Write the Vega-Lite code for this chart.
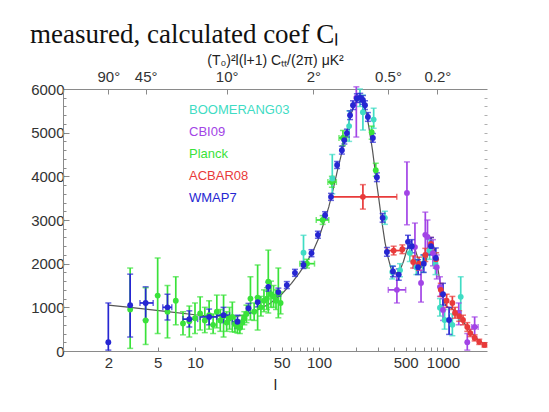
{
  "$schema": "https://vega.github.io/schema/vega-lite/v6.json",
  "autosize": "none",
  "width": 424,
  "height": 262,
  "padding": {"left": 63, "top": 89, "right": 62, "bottom": 61},
  "background": "white",
  "title": {"text": "measured, calculated coef Cₗ", "font": "Liberation Serif", "fontSize": 27, "fontWeight": "normal", "color": "#111111", "anchor": "start", "frame": "group", "dx": -33, "offset": 4},
  "config": {
    "view": {"stroke": null},
    "axis": {"labelFont": "Liberation Sans", "titleFont": "Liberation Sans", "labelColor": "#333333", "titleColor": "#222222", "domainColor": "#8a8a8a", "tickColor": "#8a8a8a", "grid": false, "titleFontWeight": "normal", "labelFontSize": 15}
  },
  "datasets": {
    "th": [
      {"l": 2, "v": 1050}, {"l": 3, "v": 1000}, {"l": 4, "v": 960}, {"l": 6, "v": 900}, {"l": 10, "v": 830}, {"l": 15, "v": 790}, {"l": 20, "v": 780}, {"l": 25, "v": 820}, {"l": 30, "v": 900}, {"l": 40, "v": 1080}, {"l": 50, "v": 1300}, {"l": 60, "v": 1550}, {"l": 70, "v": 1800}, {"l": 80, "v": 2050}, {"l": 90, "v": 2300}, {"l": 100, "v": 2600}, {"l": 110, "v": 2950}, {"l": 120, "v": 3300}, {"l": 130, "v": 3700}, {"l": 140, "v": 4100}, {"l": 150, "v": 4450}, {"l": 160, "v": 4800}, {"l": 170, "v": 5100}, {"l": 180, "v": 5400}, {"l": 190, "v": 5600}, {"l": 200, "v": 5720}, {"l": 210, "v": 5780}, {"l": 220, "v": 5760}, {"l": 230, "v": 5650}, {"l": 240, "v": 5450}, {"l": 250, "v": 5200}, {"l": 260, "v": 4900}, {"l": 270, "v": 4600}, {"l": 280, "v": 4250}, {"l": 290, "v": 3900}, {"l": 300, "v": 3600}, {"l": 320, "v": 3000}, {"l": 340, "v": 2500}, {"l": 360, "v": 2150}, {"l": 380, "v": 1900}, {"l": 400, "v": 1800}, {"l": 420, "v": 1780}, {"l": 450, "v": 1850}, {"l": 480, "v": 2050}, {"l": 510, "v": 2300}, {"l": 540, "v": 2450}, {"l": 570, "v": 2450}, {"l": 600, "v": 2300}, {"l": 640, "v": 2050}, {"l": 680, "v": 1900}, {"l": 720, "v": 2000}, {"l": 760, "v": 2250}, {"l": 800, "v": 2450}, {"l": 840, "v": 2400}, {"l": 880, "v": 2150}, {"l": 920, "v": 1800}, {"l": 960, "v": 1450}, {"l": 1000, "v": 1200}, {"l": 1050, "v": 1050}, {"l": 1100, "v": 1000}, {"l": 1150, "v": 990}, {"l": 1200, "v": 950}, {"l": 1300, "v": 850}, {"l": 1400, "v": 750}, {"l": 1500, "v": 620}, {"l": 1600, "v": 500}, {"l": 1700, "v": 420}, {"l": 1800, "v": 340}, {"l": 1900, "v": 270}, {"l": 2000, "v": 220}, {"l": 2100, "v": 180}, {"l": 2200, "v": 140}
    ],
    "pts": [
      {"s": "Planck", "l": 3, "v": 950, "lo": 60, "hi": 1900},
      {"s": "Planck", "l": 4, "v": 700, "lo": 150, "hi": 1450},
      {"s": "Planck", "l": 5, "v": 1270, "lo": 400, "hi": 2130},
      {"s": "Planck", "l": 6, "v": 900, "lo": 300, "hi": 1500},
      {"s": "Planck", "l": 7, "v": 1150, "lo": 600, "hi": 1700},
      {"s": "Planck", "l": 8, "v": 630, "lo": 370, "hi": 900},
      {"s": "Planck", "l": 9, "v": 680, "lo": 320, "hi": 1030},
      {"s": "Planck", "l": 10, "v": 750, "lo": 400, "hi": 1100},
      {"s": "Planck", "l": 11, "v": 860, "lo": 480, "hi": 1240},
      {"s": "Planck", "l": 12, "v": 700, "lo": 420, "hi": 1000},
      {"s": "Planck", "l": 13, "v": 820, "lo": 500, "hi": 1150},
      {"s": "Planck", "l": 14, "v": 600, "lo": 400, "hi": 850},
      {"s": "Planck", "l": 15, "v": 900, "lo": 530, "hi": 1280},
      {"s": "Planck", "l": 16, "v": 700, "lo": 450, "hi": 950},
      {"s": "Planck", "l": 17, "v": 800, "lo": 320, "hi": 1280},
      {"s": "Planck", "l": 18, "v": 650, "lo": 450, "hi": 900},
      {"s": "Planck", "l": 19, "v": 750, "lo": 500, "hi": 1000},
      {"s": "Planck", "l": 20, "v": 780, "lo": 440, "hi": 1120},
      {"s": "Planck", "l": 21, "v": 620, "lo": 430, "hi": 800},
      {"s": "Planck", "l": 22, "v": 560, "lo": 410, "hi": 710},
      {"s": "Planck", "l": 23, "v": 530, "lo": 400, "hi": 700},
      {"s": "Planck", "l": 24, "v": 650, "lo": 500, "hi": 820},
      {"s": "Planck", "l": 25, "v": 750, "lo": 600, "hi": 900},
      {"s": "Planck", "l": 26, "v": 850, "lo": 650, "hi": 1050},
      {"s": "Planck", "l": 28, "v": 1200, "lo": 710, "hi": 1700},
      {"s": "Planck", "l": 30, "v": 900, "lo": 700, "hi": 1100},
      {"s": "Planck", "l": 32, "v": 1220, "lo": 480, "hi": 1970},
      {"s": "Planck", "l": 34, "v": 1000, "lo": 800, "hi": 1250},
      {"s": "Planck", "l": 36, "v": 1150, "lo": 900, "hi": 1400},
      {"s": "Planck", "l": 38, "v": 1200, "lo": 950, "hi": 1450},
      {"s": "Planck", "l": 39, "v": 1590, "lo": 870, "hi": 2310},
      {"s": "Planck", "l": 41, "v": 1300, "lo": 1000, "hi": 1600},
      {"s": "Planck", "l": 43, "v": 1250, "lo": 1000, "hi": 1500},
      {"s": "Planck", "l": 45, "v": 1150, "lo": 950, "hi": 1400},
      {"s": "Planck", "l": 47, "v": 1330, "lo": 760, "hi": 1900},
      {"s": "Planck", "l": 49, "v": 1100, "lo": 850, "hi": 1350},
      {"s": "Planck", "l": 80, "v": 2000, "lo": 1900, "hi": 2100, "l1": 70, "l2": 92},
      {"s": "Planck", "l": 107, "v": 3000, "lo": 2900, "hi": 3100, "l1": 95, "l2": 120},
      {"s": "Planck", "l": 127, "v": 3870, "lo": 3750, "hi": 4000, "l1": 118, "l2": 138},
      {"s": "Planck", "l": 156, "v": 4880, "lo": 4700, "hi": 5050, "l1": 145, "l2": 168},
      {"s": "Planck", "l": 266, "v": 5010, "lo": 4850, "hi": 5150},
      {"s": "Planck", "l": 287, "v": 4140, "lo": 4000, "hi": 4300},
      {"s": "BOOMERANG03", "l": 75, "v": 2250, "lo": 1950, "hi": 2650},
      {"s": "BOOMERANG03", "l": 128, "v": 3950, "lo": 3600, "hi": 4500},
      {"s": "BOOMERANG03", "l": 175, "v": 5150, "lo": 4800, "hi": 5500},
      {"s": "BOOMERANG03", "l": 214, "v": 5790, "lo": 5600, "hi": 6000},
      {"s": "BOOMERANG03", "l": 226, "v": 5470, "lo": 5060, "hi": 5860},
      {"s": "BOOMERANG03", "l": 276, "v": 5300, "lo": 5100, "hi": 5560},
      {"s": "BOOMERANG03", "l": 340, "v": 3050, "lo": 2900, "hi": 3200},
      {"s": "BOOMERANG03", "l": 390, "v": 1810, "lo": 1650, "hi": 1950},
      {"s": "BOOMERANG03", "l": 450, "v": 1850, "lo": 1700, "hi": 2000},
      {"s": "BOOMERANG03", "l": 540, "v": 2240, "lo": 2050, "hi": 2450},
      {"s": "BOOMERANG03", "l": 610, "v": 1920, "lo": 1750, "hi": 2100},
      {"s": "BOOMERANG03", "l": 690, "v": 2000, "lo": 1800, "hi": 2200},
      {"s": "BOOMERANG03", "l": 780, "v": 2300, "lo": 2100, "hi": 2550},
      {"s": "BOOMERANG03", "l": 870, "v": 2000, "lo": 1750, "hi": 2250},
      {"s": "BOOMERANG03", "l": 945, "v": 990, "lo": 800, "hi": 1200},
      {"s": "BOOMERANG03", "l": 1030, "v": 710, "lo": 500, "hi": 950},
      {"s": "BOOMERANG03", "l": 1190, "v": 600, "lo": 350, "hi": 850},
      {"s": "BOOMERANG03", "l": 1390, "v": 1240, "lo": 710, "hi": 1700},
      {"s": "CBI09", "l": 200, "v": 5800, "lo": 4900, "hi": 6050},
      {"s": "CBI09", "l": 425, "v": 1400, "lo": 1100, "hi": 1750, "l1": 362, "l2": 500},
      {"s": "CBI09", "l": 512, "v": 3620, "lo": 2890, "hi": 4330},
      {"s": "CBI09", "l": 594, "v": 2380, "lo": 1900, "hi": 2930},
      {"s": "CBI09", "l": 665, "v": 1560, "lo": 1120, "hi": 1850},
      {"s": "CBI09", "l": 720, "v": 2660, "lo": 2200, "hi": 3180},
      {"s": "CBI09", "l": 750, "v": 2610, "lo": 2240, "hi": 3000},
      {"s": "CBI09", "l": 830, "v": 2240, "lo": 1950, "hi": 2550},
      {"s": "CBI09", "l": 890, "v": 1920, "lo": 1650, "hi": 2200},
      {"s": "CBI09", "l": 945, "v": 1470, "lo": 1250, "hi": 1700},
      {"s": "CBI09", "l": 1000, "v": 940, "lo": 700, "hi": 1200},
      {"s": "CBI09", "l": 1340, "v": 870, "lo": 600, "hi": 1100},
      {"s": "CBI09", "l": 1570, "v": 200, "lo": 20, "hi": 400},
      {"s": "CBI09", "l": 1800, "v": 550, "lo": 320, "hi": 780, "l1": 1700, "l2": 1920},
      {"s": "ACBAR08", "l": 226, "v": 3530, "lo": 3250, "hi": 3810, "l1": 123, "l2": 424},
      {"s": "ACBAR08", "l": 400, "v": 2300, "lo": 2200, "hi": 2400, "l1": 350, "l2": 460},
      {"s": "ACBAR08", "l": 470, "v": 2330, "lo": 2230, "hi": 2430},
      {"s": "ACBAR08", "l": 575, "v": 2040, "lo": 1900, "hi": 2180},
      {"s": "ACBAR08", "l": 640, "v": 2000, "lo": 1850, "hi": 2150},
      {"s": "ACBAR08", "l": 720, "v": 2200, "lo": 2050, "hi": 2350},
      {"s": "ACBAR08", "l": 800, "v": 2450, "lo": 2300, "hi": 2600},
      {"s": "ACBAR08", "l": 880, "v": 2100, "lo": 1950, "hi": 2250},
      {"s": "ACBAR08", "l": 960, "v": 1400, "lo": 1250, "hi": 1550},
      {"s": "ACBAR08", "l": 1070, "v": 1150, "lo": 1000, "hi": 1300},
      {"s": "ACBAR08", "l": 1190, "v": 1100, "lo": 950, "hi": 1250},
      {"s": "ACBAR08", "l": 1250, "v": 870, "lo": 750, "hi": 1000},
      {"s": "ACBAR08", "l": 1350, "v": 800, "lo": 680, "hi": 920},
      {"s": "ACBAR08", "l": 1450, "v": 710, "lo": 600, "hi": 820},
      {"s": "ACBAR08", "l": 1570, "v": 550, "lo": 450, "hi": 650},
      {"s": "ACBAR08", "l": 1660, "v": 410, "lo": 330, "hi": 500},
      {"s": "ACBAR08", "l": 1800, "v": 300, "lo": 230, "hi": 370},
      {"s": "ACBAR08", "l": 1960, "v": 210, "lo": 150, "hi": 270},
      {"s": "ACBAR08", "l": 2160, "v": 140, "lo": 90, "hi": 190},
      {"s": "WMAP7", "l": 2, "v": 200, "lo": 20, "hi": 1100},
      {"s": "WMAP7", "l": 3, "v": 1050, "lo": 320, "hi": 1760},
      {"s": "WMAP7", "l": 4, "v": 1100, "lo": 710, "hi": 1470, "l1": 3.6, "l2": 4.6},
      {"s": "WMAP7", "l": 6, "v": 1000, "lo": 710, "hi": 1300, "l1": 5.5, "l2": 6.5},
      {"s": "WMAP7", "l": 9, "v": 730, "lo": 550, "hi": 920, "l1": 8, "l2": 10.5},
      {"s": "WMAP7", "l": 13, "v": 780, "lo": 600, "hi": 960, "l1": 11, "l2": 15},
      {"s": "WMAP7", "l": 17, "v": 820, "lo": 650, "hi": 1000, "l1": 15, "l2": 19},
      {"s": "WMAP7", "l": 22, "v": 670, "lo": 520, "hi": 820, "l1": 20, "l2": 24},
      {"s": "WMAP7", "l": 27, "v": 980, "lo": 870, "hi": 1090},
      {"s": "WMAP7", "l": 32, "v": 1120, "lo": 1010, "hi": 1230},
      {"s": "WMAP7", "l": 39, "v": 1470, "lo": 1370, "hi": 1570},
      {"s": "WMAP7", "l": 47, "v": 1350, "lo": 1260, "hi": 1440},
      {"s": "WMAP7", "l": 55, "v": 1510, "lo": 1430, "hi": 1590},
      {"s": "WMAP7", "l": 64, "v": 1790, "lo": 1710, "hi": 1870},
      {"s": "WMAP7", "l": 75, "v": 1970, "lo": 1890, "hi": 2050},
      {"s": "WMAP7", "l": 87, "v": 2240, "lo": 2160, "hi": 2320},
      {"s": "WMAP7", "l": 98, "v": 2660, "lo": 2580, "hi": 2740},
      {"s": "WMAP7", "l": 112, "v": 3110, "lo": 3030, "hi": 3190},
      {"s": "WMAP7", "l": 125, "v": 3530, "lo": 3450, "hi": 3610},
      {"s": "WMAP7", "l": 140, "v": 4260, "lo": 4180, "hi": 4340},
      {"s": "WMAP7", "l": 153, "v": 4600, "lo": 4510, "hi": 4690},
      {"s": "WMAP7", "l": 160, "v": 4830, "lo": 4740, "hi": 4920},
      {"s": "WMAP7", "l": 168, "v": 4990, "lo": 4900, "hi": 5080},
      {"s": "WMAP7", "l": 178, "v": 5400, "lo": 5300, "hi": 5500},
      {"s": "WMAP7", "l": 188, "v": 5630, "lo": 5530, "hi": 5730},
      {"s": "WMAP7", "l": 202, "v": 5790, "lo": 5690, "hi": 5890},
      {"s": "WMAP7", "l": 215, "v": 5800, "lo": 5700, "hi": 5900},
      {"s": "WMAP7", "l": 226, "v": 5750, "lo": 5650, "hi": 5850},
      {"s": "WMAP7", "l": 235, "v": 5630, "lo": 5530, "hi": 5730},
      {"s": "WMAP7", "l": 248, "v": 5360, "lo": 5260, "hi": 5460},
      {"s": "WMAP7", "l": 272, "v": 4880, "lo": 4780, "hi": 4980},
      {"s": "WMAP7", "l": 293, "v": 3980, "lo": 3880, "hi": 4080},
      {"s": "WMAP7", "l": 326, "v": 3050, "lo": 2950, "hi": 3150},
      {"s": "WMAP7", "l": 353, "v": 2270, "lo": 2170, "hi": 2370},
      {"s": "WMAP7", "l": 395, "v": 1820, "lo": 1700, "hi": 1940},
      {"s": "WMAP7", "l": 440, "v": 1750, "lo": 1620, "hi": 1880},
      {"s": "WMAP7", "l": 522, "v": 2500, "lo": 2350, "hi": 2650},
      {"s": "WMAP7", "l": 560, "v": 2400, "lo": 2250, "hi": 2550},
      {"s": "WMAP7", "l": 630, "v": 1920, "lo": 1750, "hi": 2090},
      {"s": "WMAP7", "l": 700, "v": 2000, "lo": 1800, "hi": 2200},
      {"s": "WMAP7", "l": 800, "v": 2400, "lo": 2200, "hi": 2600},
      {"s": "WMAP7", "l": 875, "v": 2130, "lo": 1900, "hi": 2360},
      {"s": "WMAP7", "l": 1000, "v": 1300, "lo": 1050, "hi": 1550},
      {"s": "WMAP7", "l": 1120, "v": 710, "lo": 380, "hi": 1000}
    ]
  },
  "encoding": {
    "color": {
      "field": "s", "type": "nominal",
      "scale": {"domain": ["BOOMERANG03", "CBI09", "Planck", "ACBAR08", "WMAP7"], "range": ["#3fdcc4", "#a244e6", "#3ae23a", "#e83a3a", "#2626d2"]},
      "legend": {"orient": "none", "legendX": 113, "legendY": 14, "title": null, "padding": 0, "symbolSize": 0, "symbolOpacity": 0, "symbolStrokeWidth": 0, "labelOffset": 0, "labelFont": "Liberation Sans", "labelFontSize": 13, "rowPadding": 8, "encode": {"labels": {"update": {"fill": {"scale": "color", "field": "value"}}}}}
    }
  },
  "resolve": {"axis": {"x": "independent", "y": "independent"}, "scale": {"size": "independent"}},
  "layer": [
    {
      "data": {"name": "th"},
      "mark": {"type": "line", "strokeWidth": 1.2},
      "encoding": {
        "x": {"field": "l", "type": "quantitative", "scale": {"type": "log", "domain": [0.862, 2264], "nice": false},
          "axis": {"orient": "bottom", "title": "l", "titleFontSize": 15, "titlePadding": 7, "values": [2, 5, 10, 20, 30, 40, 50, 60, 70, 80, 90, 100, 200, 300, 400, 500, 600, 700, 800, 900, 1000], "labelExpr": "indexof([2,5,10,50,100,500,1000], datum.value) >= 0 ? '' + datum.value : ''", "tickSize": -4, "labelPadding": 8, "labelFlush": false, "labelOverlap": false}},
        "y": {"field": "v", "type": "quantitative", "scale": {"domain": [0, 6000], "nice": false},
          "axis": {"orient": "left", "title": null, "values": [0, 200, 400, 600, 800, 1000, 1200, 1400, 1600, 1800, 2000, 2200, 2400, 2600, 2800, 3000, 3200, 3400, 3600, 3800, 4000, 4200, 4400, 4600, 4800, 5000, 5200, 5400, 5600, 5800, 6000], "labelExpr": "datum.value % 1000 === 0 ? '' + datum.value : ''", "tickSize": {"condition": {"test": "datum.value % 1000 === 0", "value": -6}, "value": -3}, "labelPadding": 5, "labelFlush": false, "labelOverlap": false}},
        "color": {"value": "#555555"}
      }
    },
    {
      "data": {"name": "pts"},
      "mark": {"type": "rule"},
      "encoding": {
        "x": {"field": "l", "type": "quantitative", "scale": {"type": "log", "domain": [0.862, 2264], "nice": false},
          "axis": {"orient": "top", "title": "(T₀)²l(l+1) Cₜₜ/(2π) μK²", "titleFontSize": 14, "titlePadding": 2, "values": [2, 4, 18, 90, 360, 900], "labelExpr": "(180 / datum.value) + '°'", "tickSize": -5, "labelPadding": 10, "labelFlush": false, "labelOverlap": false}},
        "y": {"field": "lo", "type": "quantitative", "scale": {"domain": [0, 6000], "nice": false},
          "axis": {"orient": "right", "title": null, "labels": false, "domain": false, "values": [200, 400, 600, 800, 1000, 1200, 1400, 1600, 1800, 2000, 2200, 2400, 2600, 2800, 3000, 3200, 3400, 3600, 3800, 4000, 4200, 4400, 4600, 4800, 5000, 5200, 5400, 5600, 5800], "tickSize": -3, "tickColor": "#b0b0b0"}},
        "y2": {"field": "hi"},
        "size": {"field": "s", "type": "ordinal", "scale": {"domain": ["BOOMERANG03", "CBI09", "Planck", "ACBAR08", "WMAP7"], "range": [1.7, 1.7, 1.5, 1.7, 2.5]}, "legend": null}
      }
    },
    {
      "data": {"name": "pts"},
      "transform": [{"filter": "isValid(datum.l1)"}],
      "mark": {"type": "rule"},
      "encoding": {
        "x": {"field": "l1", "type": "quantitative", "scale": {"type": "log", "domain": [0.862, 2264], "nice": false}, "axis": null},
        "x2": {"field": "l2"},
        "y": {"field": "v", "type": "quantitative", "scale": {"domain": [0, 6000], "nice": false}, "axis": null},
        "size": {"field": "s", "type": "ordinal", "scale": {"domain": ["BOOMERANG03", "CBI09", "Planck", "ACBAR08", "WMAP7"], "range": [1.7, 1.7, 1.5, 1.7, 2.5]}, "legend": null}
      }
    },
    {
      "data": {"name": "pts"},
      "mark": {"type": "tick", "orient": "horizontal", "thickness": 1.5},
      "encoding": {
        "x": {"field": "l", "type": "quantitative", "scale": {"type": "log", "domain": [0.862, 2264], "nice": false}, "axis": null},
        "y": {"field": "lo", "type": "quantitative", "scale": {"domain": [0, 6000], "nice": false}, "axis": null},
        "size": {"field": "s", "type": "ordinal", "scale": {"domain": ["BOOMERANG03", "CBI09", "Planck", "ACBAR08", "WMAP7"], "range": [6, 6, 5, 6, 8]}, "legend": null}
      }
    },
    {
      "data": {"name": "pts"},
      "mark": {"type": "tick", "orient": "horizontal", "thickness": 1.5},
      "encoding": {
        "x": {"field": "l", "type": "quantitative", "scale": {"type": "log", "domain": [0.862, 2264], "nice": false}, "axis": null},
        "y": {"field": "hi", "type": "quantitative", "scale": {"domain": [0, 6000], "nice": false}, "axis": null},
        "size": {"field": "s", "type": "ordinal", "scale": {"domain": ["BOOMERANG03", "CBI09", "Planck", "ACBAR08", "WMAP7"], "range": [6, 6, 5, 6, 8]}, "legend": null}
      }
    },
    {
      "data": {"name": "pts"},
      "transform": [{"filter": "isValid(datum.l1)"}],
      "mark": {"type": "tick", "orient": "vertical", "thickness": 1.5, "size": 6},
      "encoding": {
        "x": {"field": "l1", "type": "quantitative", "scale": {"type": "log", "domain": [0.862, 2264], "nice": false}, "axis": null},
        "y": {"field": "v", "type": "quantitative", "scale": {"domain": [0, 6000], "nice": false}, "axis": null}
      }
    },
    {
      "data": {"name": "pts"},
      "transform": [{"filter": "isValid(datum.l1)"}],
      "mark": {"type": "tick", "orient": "vertical", "thickness": 1.5, "size": 6},
      "encoding": {
        "x": {"field": "l2", "type": "quantitative", "scale": {"type": "log", "domain": [0.862, 2264], "nice": false}, "axis": null},
        "y": {"field": "v", "type": "quantitative", "scale": {"domain": [0, 6000], "nice": false}, "axis": null}
      }
    },
    {
      "data": {"name": "pts"},
      "mark": {"type": "circle", "opacity": 1},
      "encoding": {
        "x": {"field": "l", "type": "quantitative", "scale": {"type": "log", "domain": [0.862, 2264], "nice": false}, "axis": null},
        "y": {"field": "v", "type": "quantitative", "scale": {"domain": [0, 6000], "nice": false}, "axis": null},
        "size": {"field": "s", "type": "ordinal", "scale": {"domain": ["BOOMERANG03", "CBI09", "Planck", "ACBAR08", "WMAP7"], "range": [34, 34, 26, 34, 90]}, "legend": null}
      }
    }
  ]
}
